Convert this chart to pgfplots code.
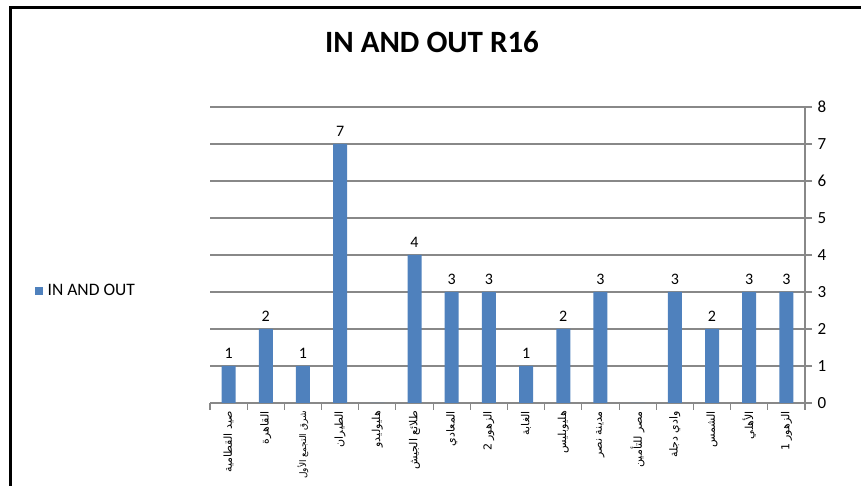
\documentclass[border=0pt]{standalone}
\usepackage{fontspec}
\setmainfont{Carlito}
\newfontfamily\arabicfont[Script=Arabic]{DejaVu Sans}
\TeXXeTstate=1
\usepackage{pgfplots}
\pgfplotsset{compat=1.18}
\definecolor{barblue}{HTML}{4F81BD}
\definecolor{axgray}{HTML}{888888}

\begin{document}
\begin{tikzpicture}[x=1pt,y=1pt]
\useasboundingbox (0,0) rectangle (861,486);
\draw[line width=3pt] (10,-20) -- (10,478) -- (900,478);
\node[font=\bfseries\fontsize{31}{36}\selectfont] at (432,444) {IN AND OUT R16};
\begin{axis}[
    at={(210pt,83pt)}, anchor=south west,
    width=595pt, height=296pt, scale only axis,
    xmin=-0.5, xmax=15.5, ymin=0, ymax=8,
    axis x line=bottom, axis y line=right,
    axis line style={-, axgray, line width=1.1pt},
    ytick={0,...,8},
    ymajorgrids, grid style={axgray, line width=1.1pt},
    xtick={0,...,15},
    minor xtick={-0.5,0.5,...,15.5},
    major x tick style={draw=none},
    tick style={axgray, line width=1.1pt},
    minor tick length=7pt, major tick length=7pt,
    tick align=outside,
    yticklabel style={font=\fontsize{17}{18}\selectfont, xshift=2pt},
    /pgf/number format/assume math mode=true,
    xticklabels={
      {\beginR صيد القطامية\endR},
      {\beginR القاهرة\endR},
      {\fontsize{9}{10}\selectfont\beginR شرق التجمع الأول\endR},
      {\beginR الطيران\endR},
      {\beginR هليوليدو\endR},
      {\beginR طلائع الجيش\endR},
      {\beginR المعادي\endR},
      {\beginR الزهور 2\endR},
      {\beginR الغابة\endR},
      {\beginR هليوبليس\endR},
      {\beginR مدينة نصر\endR},
      {\beginR مصر للتأمين\endR},
      {\beginR وادي دجلة\endR},
      {\beginR الشمس\endR},
      {\beginR الأهلي\endR},
      {\beginR الزهور 1\endR}},
    xticklabel style={rotate=90, anchor=east, inner sep=1pt,
      font=\arabicfont\fontsize{11}{12}\selectfont},
    ybar, bar width=14pt,
    nodes near coords={\pgfmathfloatifflags{\pgfplotspointmeta}{0}{}{\pgfmathprintnumber{\pgfplotspointmeta}}},
    nodes near coords style={font=\fontsize{16}{17}\selectfont, yshift=4pt},
    legend style={at={(-0.30,0.38)}, anchor=west, draw=none,
      font=\fontsize{17.5}{18}\selectfont, fill=none,
      cells={anchor=west}},
    legend image code/.code={\fill[barblue] (0pt,-4pt) rectangle (8pt,4pt);},
]
\addplot[fill=barblue, draw=none] coordinates {
  (0,1) (1,2) (2,1) (3,7) (4,0) (5,4) (6,3) (7,3)
  (8,1) (9,2) (10,3) (11,0) (12,3) (13,2) (14,3) (15,3)
};
\addlegendentry{\hspace{3pt}IN AND OUT}
\end{axis}
\end{tikzpicture}
\end{document}
